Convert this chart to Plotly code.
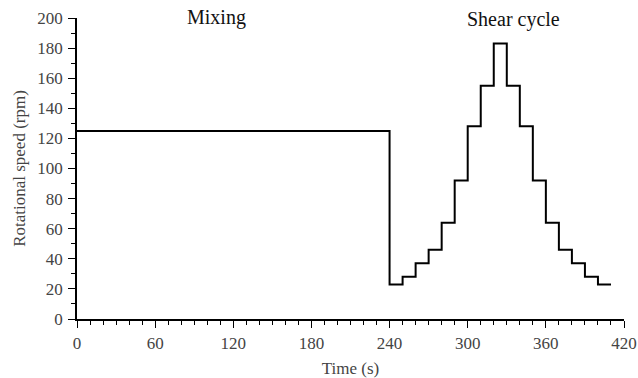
import plotly.graph_objects as go

# Step start times (s) and rotational speeds (rpm); last point marks the end of the final step
time_s = [0, 240, 250, 260, 270, 280, 290, 300, 310, 320, 330, 340, 350, 360, 370, 380, 390, 400, 410]
speed_rpm = [125, 23, 28, 37, 46, 64, 92, 128, 155, 183, 155, 128, 92, 64, 46, 37, 28, 23, 23]

x_ticks = [0, 60, 120, 180, 240, 300, 360, 420]
y_ticks = [0, 20, 40, 60, 80, 100, 120, 140, 160, 180, 200]

phase_labels = ["Mixing", "Shear cycle"]
phase_x = [107, 335]

FONT = "Liberation Serif, Times New Roman, DejaVu Serif, serif"

fig = go.Figure()
fig.add_trace(go.Scatter(
    x=time_s, y=speed_rpm, mode="lines", line_shape="hv",
    line=dict(color="black", width=2), showlegend=False,
))

for lab, xp, ys in zip(phase_labels, phase_x, [0.5, -1.5]):
    fig.add_annotation(x=xp, y=1, text=lab, showarrow=False, xref="x", yref="paper",
                       yanchor="middle", yshift=ys,
                       font=dict(family=FONT, size=20, color="#111"))

axis_common = dict(
    showgrid=False, zeroline=False, showline=True, linecolor="black", linewidth=1.5,
    ticks="outside", ticklen=7, tickwidth=1.3, tickcolor="black",
    tickfont=dict(family=FONT, size=17, color="#444"), automargin=False,
)

fig.update_xaxes(
    range=[0, 420], tickvals=x_ticks, ticklabelstandoff=1, **axis_common,
    minor=dict(ticks="outside", dtick=10, ticklen=4, tickcolor="black", tickwidth=1.2),
    title=dict(text="Time (s)", font=dict(family=FONT, size=17, color="#444"), standoff=14),
)
fig.update_yaxes(
    range=[0, 200], tickvals=y_ticks, ticklabelstandoff=2, **axis_common,
    minor=dict(ticks="outside", dtick=10, ticklen=4, tickcolor="black", tickwidth=1.2),
    title=dict(text="Rotational speed (rpm)", font=dict(family=FONT, size=17, color="#444"), standoff=7),
)

fig.update_layout(
    width=638, height=378,
    font=dict(family=FONT, size=17, color="#444"),
    margin=dict(l=77, r=14, t=18, b=59),
    plot_bgcolor="white", paper_bgcolor="white",
)

fig.write_html("out.html")
